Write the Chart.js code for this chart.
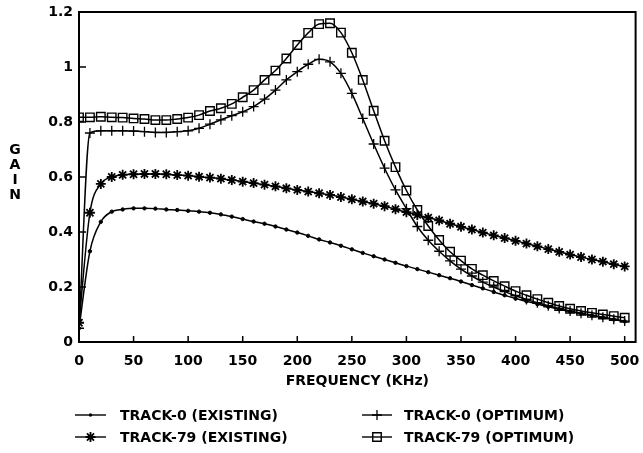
<!DOCTYPE html>
<html>
<head>
<meta charset="utf-8">
<script src="https://cdn.jsdelivr.net/npm/chart.js@4.4.0/dist/chart.umd.min.js"></script>
<style>
  html, body { margin: 0; padding: 0; background: #fff; }
  #wrap { width: 643px; height: 453px; position: relative; }
</style>
</head>
<body>
<div id="wrap"><canvas id="c" width="643" height="453"></canvas></div>
<script>
// ---- data ----
const freqKHz = [0,10,20,30,40,50,60,70,80,90,100,110,120,130,140,150,160,170,180,190,200,
  210,220,230,240,250,260,270,280,290,300,310,320,330,340,350,360,370,380,390,400,
  410,420,430,440,450,460,470,480,490,500];

const track0Existing = [0.05,0.33,0.437,0.474,0.482,0.486,0.486,0.485,0.482,0.48,0.477,
  0.474,0.47,0.464,0.456,0.447,0.438,0.43,0.42,0.409,0.398,
  0.386,0.373,0.362,0.35,0.337,0.324,0.312,0.3,0.288,0.276,
  0.265,0.254,0.243,0.232,0.22,0.207,0.195,0.182,0.17,0.158,
  0.148,0.138,0.128,0.119,0.111,0.103,0.096,0.089,0.082,0.075];

const track0Optimum = [0.05,0.76,0.768,0.768,0.768,0.767,0.765,0.762,0.762,0.765,0.768,
  0.777,0.792,0.808,0.823,0.837,0.856,0.883,0.916,0.953,0.983,
  1.01,1.028,1.019,0.977,0.904,0.813,0.72,0.632,0.553,0.485,
  0.42,0.37,0.33,0.295,0.265,0.24,0.218,0.2,0.183,0.168,
  0.155,0.143,0.132,0.122,0.113,0.105,0.097,0.09,0.083,0.076];

const track79Existing = [0.07,0.47,0.575,0.6,0.608,0.61,0.611,0.611,0.61,0.607,0.605,
  0.601,0.598,0.594,0.589,0.583,0.578,0.572,0.566,0.559,0.553,
  0.547,0.541,0.535,0.527,0.519,0.511,0.503,0.494,0.483,0.472,
  0.462,0.452,0.442,0.43,0.419,0.409,0.398,0.388,0.378,0.368,
  0.358,0.348,0.338,0.328,0.318,0.309,0.3,0.292,0.283,0.275];

const track79Optimum = [0.817,0.817,0.819,0.817,0.816,0.813,0.811,0.807,0.807,0.811,0.816,
  0.825,0.84,0.85,0.866,0.89,0.916,0.953,0.987,1.031,1.08,
  1.124,1.156,1.159,1.125,1.052,0.953,0.841,0.732,0.636,0.551,
  0.48,0.422,0.371,0.328,0.296,0.266,0.243,0.222,0.203,0.185,
  0.17,0.156,0.143,0.131,0.121,0.113,0.106,0.1,0.094,0.088];

const seriesNames = ['TRACK-0 (EXISTING)', 'TRACK-0 (OPTIMUM)', 'TRACK-79 (EXISTING)', 'TRACK-79 (OPTIMUM)'];
const xTickValues = [0,50,100,150,200,250,300,350,400,450,500];
const xTickLabels = ['0','50','100','150','200','250','300','350','400','450','500'];
const yTickValues = [0,0.2,0.4,0.6,0.8,1,1.2];
const yTickLabels = ['0','0.2','0.4','0.6','0.8','1','1.2'];
const yTitleLetters = ['G','A','I','N'];
const xTitle = 'FREQUENCY (KHz)';

// ---- build ----
const FONT = 'DejaVu Sans';
const pts = arr => freqKHz.map((f, i) => ({ x: f, y: arr[i] }));

const styles = [
  { pointStyle: 'circle', pointRadius: 1.7, pointBorderWidth: 1, pointBackgroundColor: '#000' },
  { pointStyle: 'cross', pointRadius: 5, pointBorderWidth: 1.3, pointBackgroundColor: 'rgba(0,0,0,0)' },
  { pointStyle: 'star', pointRadius: 5, pointBorderWidth: 1.8, pointBackgroundColor: 'rgba(0,0,0,0)' },
  { pointStyle: 'rect', pointRadius: 6, pointBorderWidth: 1.4, pointBackgroundColor: 'rgba(0,0,0,0)' }
];
const seriesData = [track0Existing, track0Optimum, track79Existing, track79Optimum];

const datasets = seriesData.map((arr, i) => Object.assign({
  label: seriesNames[i],
  data: pts(arr),
  borderColor: '#000',
  borderWidth: 1.5,
  pointBorderColor: '#000',
  fill: false,
  cubicInterpolationMode: 'monotone'
}, styles[i]));

function drawMarker(ctx, style, x, y) {
  const r = style.pointRadius;
  ctx.save();
  ctx.strokeStyle = '#000';
  ctx.fillStyle = '#000';
  ctx.lineWidth = style.pointBorderWidth;
  ctx.beginPath();
  if (style.pointStyle === 'circle') {
    ctx.arc(x, y, r, 0, Math.PI * 2);
    ctx.fill();
  } else if (style.pointStyle === 'cross') {
    ctx.moveTo(x, y - r); ctx.lineTo(x, y + r);
    ctx.moveTo(x - r, y); ctx.lineTo(x + r, y);
    ctx.stroke();
  } else if (style.pointStyle === 'star') {
    ctx.moveTo(x, y - r); ctx.lineTo(x, y + r);
    ctx.moveTo(x - r, y); ctx.lineTo(x + r, y);
    const d = r * Math.SQRT1_2;
    ctx.moveTo(x - d, y - d); ctx.lineTo(x + d, y + d);
    ctx.moveTo(x - d, y + d); ctx.lineTo(x + d, y - d);
    ctx.stroke();
  } else if (style.pointStyle === 'rect') {
    const s = r * Math.SQRT1_2;
    ctx.rect(x - s, y - s, 2 * s, 2 * s);
    ctx.stroke();
  }
  ctx.restore();
}

const decorPlugin = {
  id: 'decor',
  afterDraw(chart) {
    const { ctx, chartArea: a, scales: { x, y } } = chart;
    ctx.save();
    // frame
    ctx.strokeStyle = '#000';
    ctx.lineWidth = 2;
    ctx.strokeRect(a.left, a.top, a.right - a.left, a.bottom - a.top);
    // inward ticks
    ctx.lineWidth = 1.5;
    ctx.beginPath();
    xTickValues.forEach(v => {
      if (v === 0) return;
      const px = x.getPixelForValue(v);
      ctx.moveTo(px, a.bottom); ctx.lineTo(px, a.bottom - 6);
    });
    yTickValues.forEach(v => {
      if (v === 0) return;
      const py = y.getPixelForValue(v);
      ctx.moveTo(a.left, py); ctx.lineTo(a.left + 7, py);
    });
    ctx.stroke();
    // Y title stacked letters
    ctx.fillStyle = '#000';
    ctx.font = 'bold 14px "' + FONT + '"';
    ctx.textAlign = 'center';
    ctx.textBaseline = 'middle';
    const midY = (a.top + a.bottom) / 2;
    yTitleLetters.forEach((ch, i) => {
      ctx.fillText(ch, 15, midY - 4 + (i - 1.5) * 15);
    });
    // legend
    const cols = [{ x1: 75, x2: 106, tx: 120 }, { x1: 362, x2: 392, tx: 404 }];
    const rows = [415, 437];
    ctx.textAlign = 'left';
    chart.data.datasets.forEach((ds, i) => {
      const c = cols[i % 2], ry = rows[Math.floor(i / 2)];
      ctx.lineWidth = 1.4;
      ctx.beginPath();
      ctx.moveTo(c.x1, ry); ctx.lineTo(c.x2, ry);
      ctx.stroke();
      drawMarker(ctx, styles[i], (c.x1 + c.x2) / 2, ry);
      ctx.fillText(ds.label, c.tx, ry + 1);
    });
    ctx.restore();
  }
};

new Chart(document.getElementById('c'), {
  type: 'line',
  data: { datasets },
  options: {
    responsive: false,
    animation: false,
    devicePixelRatio: 1,
    layout: { padding: { left: 0, right: 5, top: 12, bottom: 62 } },
    plugins: { legend: { display: false }, tooltip: { enabled: false } },
    scales: {
      x: {
        type: 'linear',
        min: 0, max: 510,
        afterBuildTicks: ax => { ax.ticks = xTickValues.map(v => ({ value: v })); },
        afterFit: s => { s.height = 49; s.paddingLeft = 0; s.paddingRight = 0; },
        grid: { display: false, drawTicks: false },
        border: { display: false },
        ticks: { color: '#000', padding: 11, maxRotation: 0,
                 font: { family: FONT, weight: 'bold', size: 14 },
                 callback: (v, i) => xTickLabels[i] },
        title: { display: true, text: xTitle, color: '#000', padding: { top: 0, bottom: 1 },
                 font: { family: FONT, weight: 'bold', size: 14 } }
      },
      y: {
        type: 'linear',
        min: 0, max: 1.2,
        afterBuildTicks: ax => { ax.ticks = yTickValues.map(v => ({ value: v })); },
        afterFit: s => { s.width = 79; s.paddingTop = 0; s.paddingBottom = 0; },
        grid: { display: false, drawTicks: false },
        border: { display: false },
        ticks: { color: '#000', padding: 6,
                 font: { family: FONT, weight: 'bold', size: 14 },
                 callback: (v, i) => yTickLabels[i] }
      }
    }
  },
  plugins: [decorPlugin]
});
</script>
</body>
</html>
